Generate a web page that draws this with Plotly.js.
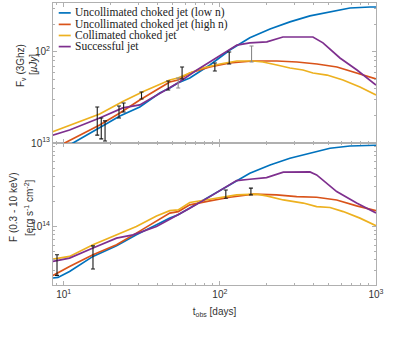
<!DOCTYPE html>
<html>
<head>
<meta charset="utf-8">
<script src="https://cdn.plot.ly/plotly-3.0.1.min.js"></script>
<style>
  html, body { margin: 0; padding: 0; background: #fff; }
  #chart { width: 415px; height: 346px; }
</style>
</head>
<body>
<div id="chart"></div>
<script>
// series names and colours (MATLAB default order)
const names = ['Uncollimated choked jet (low n)', 'Uncollimated choked jet (high n)', 'Collimated choked jet', 'Successful jet'];
const colors = ['#0072BD', '#D95319', '#EDB120', '#7E2F8E'];

// ---- radio, F_nu (3 GHz) [uJy] ----
const radioT_low = [11, 17, 22.9, 30.7, 41.2, 47.8, 53.8, 64.2, 86.3, 115.9, 155.6, 209.6, 281, 377.5, 507.4, 681, 915.7, 1000];
const radioF_low = [9.6, 14.6, 19.8, 24.9, 35.4, 40.2, 45.6, 51.8, 71.9, 105, 143, 179, 214, 249, 275, 304, 312, 312];

const radioT_high = [9.8, 17, 22.9, 30.7, 41.2, 47.8, 53.8, 64.2, 86.3, 115.9, 162.8, 231.9, 311.7, 418.8, 562.3, 755.2, 1000];
const radioF_high = [9.7, 15.8, 21.4, 29.7, 40.2, 46.8, 49.2, 58.8, 68.4, 75.7, 79.6, 79.6, 77.6, 73.8, 68.4, 58.8, 50.5];

const radioT_coll = [8.5, 17, 23.9, 32.1, 47.8, 53.8, 64.2, 77.8, 100, 128.5, 162.8, 188.9, 231.9, 281, 340.7, 394.6, 485.6, 614.3, 789.3, 1000];
const radioF_coll = [13.3, 20.8, 28.5, 36.6, 49.2, 51.8, 58.8, 66.7, 73.8, 79.6, 79.6, 77.6, 71.9, 66.7, 63.4, 58.8, 55.8, 49.2, 41.2, 33.7];

const radioT_succ = [8.5, 10.9, 17, 23.9, 30.7, 41.2, 47.8, 53.8, 71.3, 95.7, 128.5, 155.6, 200, 253.5, 326, 394.6, 457.5, 587.7, 755.2, 1000];
const radioF_succ = [12.2, 13.9, 18.8, 24.3, 26.2, 35.4, 41.2, 45.6, 63.4, 85.9, 119, 126, 129, 146, 146, 146, 126, 85.9, 63.4, 43.4];

// radio observations (lower / upper ends of the bars)
const radioObsT = [16.4, 17.4, 18.4, 22.6, 24.2, 31.5, 46.7, 57.3, 92.9, 114.8];
const radioObsLo = [12.2, 11.1, 10.5, 18.8, 21.9, 30.4, 38.2, 50.5, 61.8, 73.8];
const radioObsHi = [24.9, 18.8, 17.5, 25.5, 27.5, 36.3, 48, 68.4, 75.7, 100];
const radioObsGrayT = [54.1, 159.6];
const radioObsGrayLo = [40.2, 77.6];
const radioObsGrayHi = [51.8, 116.4];

// ---- X-ray, F (0.3 - 10 keV) [erg s^-1 cm^-2] ----
const xrayT_low = [8.54, 9.19, 10.9, 15.4, 21.8, 29.2, 39.3, 47.8, 54.1, 64.2, 86.3, 115.9, 155.6, 209.6, 281, 377.5, 507.4, 681, 915.7, 1000];
const xrayF_low = [2.42e-15, 2.46e-15, 2.9e-15, 4.39e-15, 5.87e-15, 7.96e-15, 1.05e-14, 1.26e-14, 1.38e-14, 1.66e-14, 2.28e-14, 3.15e-14, 4.35e-14, 5.46e-14, 6.56e-14, 7.53e-14, 8.65e-14, 9.2e-14, 9.4e-14, 9.4e-14];

const xrayT_high = [8.54, 10.9, 15.4, 21.8, 29.2, 39.3, 47.8, 54.1, 64.2, 86.3, 115.9, 163.4, 231, 310.5, 416.8, 560, 751.6, 1000];
const xrayF_high = [2.6e-15, 3.33e-15, 4.59e-15, 6.04e-15, 8.34e-15, 1.17e-14, 1.45e-14, 1.51e-14, 1.82e-14, 2.03e-14, 2.24e-14, 2.44e-14, 2.39e-14, 2.28e-14, 2.24e-14, 2.08e-14, 1.77e-14, 1.55e-14];

const xrayT_coll = [8.54, 10.9, 15.4, 21.8, 29.2, 39.3, 47.8, 54.1, 64.2, 86.3, 128, 171.7, 199, 254.9, 342, 416.8, 507.4, 617, 789.3, 1000];
const xrayF_coll = [4.07e-15, 4.39e-15, 6.04e-15, 7.96e-15, 1.0e-14, 1.34e-14, 1.55e-14, 1.58e-14, 1.94e-14, 2.12e-14, 2.39e-14, 2.44e-14, 2.33e-14, 2.08e-14, 1.91e-14, 1.73e-14, 1.69e-14, 1.51e-14, 1.26e-14, 1.02e-14];

const xrayT_succ = [8.54, 10.9, 15.4, 21.8, 27.8, 39.3, 47.8, 54.1, 64.2, 86.3, 115.9, 128, 155.6, 199, 254.9, 310.5, 377.5, 416.8, 560, 751.6, 1000];
const xrayF_succ = [3.82e-15, 4.19e-15, 5.52e-15, 7.26e-15, 7.96e-15, 1.0e-14, 1.22e-14, 1.38e-14, 1.66e-14, 2.28e-14, 3.15e-14, 3.55e-14, 3.68e-14, 3.85e-14, 4.47e-14, 4.47e-14, 4.5e-14, 4.15e-14, 2.62e-14, 1.91e-14, 1.45e-14];

const xrayObsT = [9.06, 15.4, 109.2, 158.1];
const xrayObsLo = [2.6e-15, 3.1e-15, 2.18e-14, 2.39e-14];
const xrayObsHi = [4.59e-15, 5.87e-15, 2.74e-14, 2.88e-14];

// tick labels
const xTickVals = [10, 100, 1000];
const xTickText = ['10<sup>1</sup>', '10<sup>2</sup>', '10<sup>3</sup>'];
const radioTickVals = [10, 100];
const radioTickText = ['', '10<sup>2</sup>'];
const xrayTickVals = [1e-14, 1e-13];
const xrayTickText = ['10<sup>14</sup>', '10<sup>13</sup>'];

const curvesRadio = [[radioT_low, radioF_low], [radioT_high, radioF_high], [radioT_coll, radioF_coll], [radioT_succ, radioF_succ]];
const curvesXray = [[xrayT_low, xrayF_low], [xrayT_high, xrayF_high], [xrayT_coll, xrayF_coll], [xrayT_succ, xrayF_succ]];

function minorVals(decades) {
  const out = [];
  decades.forEach(d => { for (let k = 2; k <= 9; k++) out.push(k * d); });
  return out;
}

function obsTrace(t, lo, hi, color, xa, ya) {
  const mid = lo.map((v, i) => Math.sqrt(v * hi[i]));
  return {
    x: t, y: mid, type: 'scatter', mode: 'markers', xaxis: xa, yaxis: ya,
    marker: {size: 1, color: 'rgba(0,0,0,0)'},
    error_y: {type: 'data', symmetric: false,
      array: hi.map((v, i) => v - mid[i]),
      arrayminus: lo.map((v, i) => mid[i] - v),
      color: color, thickness: 1.1, width: 2},
    showlegend: false, hoverinfo: 'skip'
  };
}

const data = [];
curvesRadio.forEach((c, i) => data.push({
  x: c[0], y: c[1], type: 'scatter', mode: 'lines', xaxis: 'x2', yaxis: 'y2',
  name: names[i], line: {color: colors[i], width: 1.7}, showlegend: false
}));
curvesXray.forEach((c, i) => data.push({
  x: c[0], y: c[1], type: 'scatter', mode: 'lines', xaxis: 'x', yaxis: 'y',
  name: names[i], line: {color: colors[i], width: 1.7}, showlegend: false
}));
data.push(obsTrace(radioObsT, radioObsLo, radioObsHi, '#1a1a1a', 'x2', 'y2'));
data.push(obsTrace(radioObsGrayT, radioObsGrayLo, radioObsGrayHi, '#8a8a8a', 'x2', 'y2'));
data.push(obsTrace(xrayObsT, xrayObsLo, xrayObsHi, '#1a1a1a', 'x', 'y'));

const axisColor = '#b0b0b0';
const tickFont = {family: 'Liberation Sans, Arial, sans-serif', size: 10, color: '#333'};
const split = 142 / 282;

function logAxis(extra) {
  return Object.assign({
    type: 'log', showgrid: false, zeroline: false,
    showline: true, linecolor: axisColor, linewidth: 1, mirror: 'allticks',
    ticks: 'inside', ticklen: 4, tickcolor: axisColor, tickfont: tickFont,
    tickmode: 'array'
  }, extra);
}

const xMinor = {ticks: 'inside', ticklen: 2, tickcolor: axisColor, tickmode: 'array',
  tickvals: [9].concat(minorVals([10, 100]))};

// y-axis titles, one rotated line each (MATLAB spacing)
const yTitles = [
  {text: 'F<sub>ν</sub> (3Ghz)', px: 21, py: 66},
  {text: '[<i>μJy</i>]', px: 33, py: 65},
  {text: 'F (0.3 - 10 keV)', px: 13, py: 208},
  {text: '[erg s<sup>-1</sup> cm<sup>-2</sup>]', px: 29, py: 208}
];

const layout = {
  width: 415, height: 346,
  margin: {l: 53, r: 39, t: 3, b: 61},
  paper_bgcolor: '#fff', plot_bgcolor: '#fff',
  showlegend: false,
  xaxis: logAxis({anchor: 'y', range: [Math.log10(8.54), 3], tickvals: xTickVals, ticktext: xTickText,
    minor: xMinor,
    title: {text: 't<sub>obs</sub> [days]', font: tickFont, standoff: 8}}),
  xaxis2: logAxis({anchor: 'y2', matches: 'x', range: [Math.log10(8.54), 3], tickvals: xTickVals,
    ticktext: ['', '', ''], minor: xMinor}),
  yaxis: logAxis({domain: [0, split], anchor: 'x', range: [-14.7, -13],
    tickvals: xrayTickVals, ticktext: xrayTickText,
    minor: {ticks: 'inside', ticklen: 2, tickcolor: axisColor, tickmode: 'array',
      tickvals: minorVals([1e-15, 1e-14])}}),
  yaxis2: logAxis({domain: [split, 1], anchor: 'x2', range: [1, 2.538],
    tickvals: radioTickVals, ticktext: radioTickText,
    minor: {ticks: 'inside', ticklen: 2, tickcolor: axisColor, tickmode: 'array',
      tickvals: minorVals([10, 100])}}),
  annotations: yTitles.map(t => ({
    xref: 'paper', yref: 'paper', x: (t.px - 53) / 323, y: (285 - t.py) / 282,
    xanchor: 'center', yanchor: 'middle', textangle: -90, showarrow: false,
    font: tickFont, text: t.text
  })),
  shapes: []
};

// compact legend (MATLAB style) in the top panel
const legendRows = [0.9649, 0.9241, 0.8848, 0.8454];
names.forEach((n, i) => {
  layout.shapes.push({type: 'line', xref: 'paper', yref: 'paper',
    x0: 0.0177, x1: 0.0549, y0: legendRows[i], y1: legendRows[i],
    line: {color: colors[i], width: 1.7}});
  layout.annotations.push({xref: 'paper', yref: 'paper', x: 0.0611, y: legendRows[i],
    xanchor: 'left', yanchor: 'middle', showarrow: false, text: n,
    font: {family: 'Liberation Serif, Times New Roman, serif', size: 11.5, color: '#222'}});
});

Plotly.newPlot('chart', data, layout, {displayModeBar: false, staticPlot: true});
</script>
</body>
</html>
